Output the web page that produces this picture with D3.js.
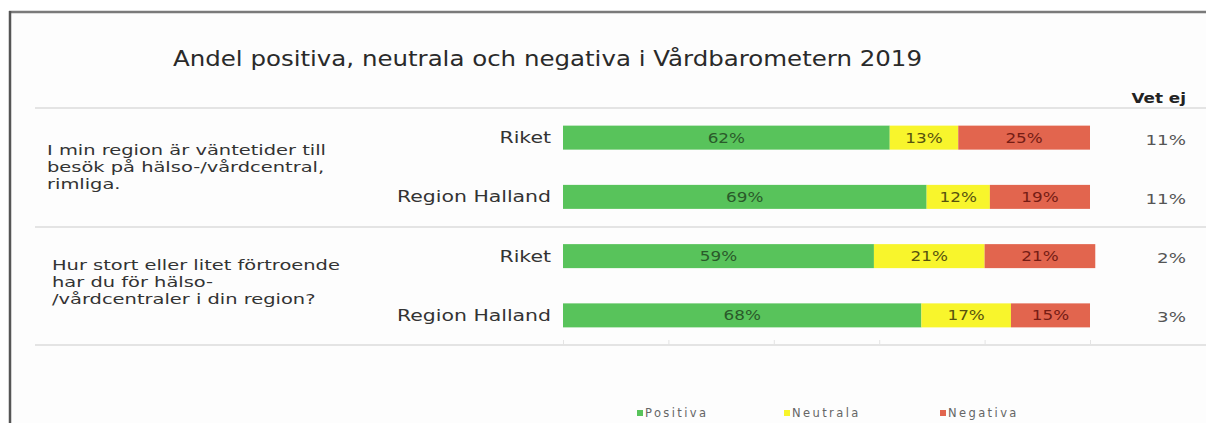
<!DOCTYPE html>
<html>
<head>
<meta charset="utf-8">
<script src="https://cdn.jsdelivr.net/npm/d3@7"></script>
<style>
  body { margin: 0; background: #fff; }
  svg { display: block; font-family: 'DejaVu Sans', sans-serif; }
</style>
</head>
<body>
<script>
const width = 1206, height = 423;

// data
const questions = [
    ['I min region är väntetider till', 'besök på hälso-/vårdcentral,', 'rimliga.'],
    ['Hur stort eller litet förtroende', 'har du för hälso-', '/vårdcentraler i din region?']
];
const groups = ['Riket', 'Region Halland'];
const positiva = [62, 69, 59, 68];
const neutrala = [13, 12, 21, 17];
const negativa = [25, 19, 21, 15];
const vetEj = [11, 11, 2, 3];
const seriesNames = ['Positiva', 'Neutrala', 'Negativa'];
const xTicks = [0, 20, 40, 60, 80, 100];

const colors = { Positiva: '#58c35b', Neutrala: '#f8f52c', Negativa: '#e2654e' };
const labelColors = { Positiva: '#2a5a2a', Neutrala: '#57520e', Negativa: '#751c14' };

const rows = [];
questions.forEach((q, qi) => groups.forEach((g, gi) => {
    const i = qi * groups.length + gi;
    rows.push({ key: qi + '-' + g, q: qi, group: g, Positiva: positiva[i], Neutrala: neutrala[i], Negativa: negativa[i], vetEj: vetEj[i] });
}));

const svg = d3.select('body').append('svg').attr('width', width).attr('height', height);

// frame
svg.append('rect').attr('x', 10).attr('y', 12).attr('width', width).attr('height', height)
    .attr('fill', '#fdfdfd');
svg.append('line').attr('x1', 9).attr('x2', width).attr('y1', 12).attr('y2', 12)
    .attr('stroke', '#7a7a7a').attr('stroke-width', 2.5);
svg.append('line').attr('x1', 10).attr('x2', 10).attr('y1', 11).attr('y2', height)
    .attr('stroke', '#555').attr('stroke-width', 2.5);

const x = d3.scaleLinear().domain([0, 100]).range([563, 1090]);
const y = d3.scaleBand().domain(rows.map(d => d.key)).range([108, 345])
    .paddingInner(0.595).paddingOuter(0.2975);

// widen glyphs, the original font is a wide geometric one
function stretch(sel, k) {
    sel.each(function () {
        const len = this.getComputedTextLength();
        d3.select(this).attr('textLength', len * k).attr('lengthAdjust', 'spacingAndGlyphs');
    });
}
// factor so that a sample string gets a target width
function factorFor(str, size, target) {
    const t = svg.append('text').attr('font-size', size).text(str);
    const k = target / t.node().getComputedTextLength();
    t.remove();
    return k;
}

// title
svg.append('text').attr('x', 173).attr('y', 66)
    .attr('font-size', 21).attr('fill', '#2a2a2a')
    .attr('textLength', 749).attr('lengthAdjust', 'spacingAndGlyphs')
    .text('Andel positiva, neutrala och negativa i Vårdbarometern 2019');

svg.append('text').attr('x', 1186).attr('y', 103).attr('text-anchor', 'end')
    .attr('font-size', 14).attr('font-weight', 'bold').attr('fill', '#222')
    .text('Vet ej')
    .call(stretch, 1.2);

// separator lines
svg.selectAll('line.sep')
    .data([108, 227, 345])
    .enter().append('line')
    .attr('class', 'sep')
    .attr('x1', 35).attr('x2', width)
    .attr('y1', d => d).attr('y2', d => d)
    .attr('stroke', '#e4e4e4').attr('stroke-width', 2);

// faint ticks on the bottom line
const axis = svg.append('g').attr('transform', 'translate(0,345)')
    .call(d3.axisBottom(x).tickValues(xTicks).tickSize(-5).tickFormat(''));
axis.select('.domain').remove();
axis.selectAll('.tick line').attr('stroke', '#e4e4e4');

// question text
const qTop = [150, 265];
const qX = [47, 52];
const qK = factorFor(questions[0][0], 14, 279);
questions.forEach((lines, qi) => {
    svg.selectAll('text.q' + qi)
        .data(lines)
        .enter().append('text')
        .attr('class', 'q' + qi)
        .attr('x', qX[qi])
        .attr('y', (d, li) => qTop[qi] + li * 17)
        .attr('dy', '0.35em')
        .attr('font-size', 14).attr('fill', '#333')
        .text(d => d)
        .call(stretch, qK);
});

// category labels
const catK = factorFor(groups[1], 16, 154);
svg.selectAll('text.cat')
    .data(rows)
    .enter().append('text')
    .attr('class', 'cat')
    .attr('x', 551)
    .attr('y', d => y(d.key) + y.bandwidth() / 2)
    .attr('dy', '0.35em')
    .attr('text-anchor', 'end')
    .attr('font-size', 16).attr('fill', '#333')
    .text(d => d.group)
    .call(stretch, catK);

// stacked bars
const stack = d3.stack().keys(seriesNames)(rows);
const layer = svg.selectAll('g.layer')
    .data(stack)
    .enter().append('g')
    .attr('class', 'layer');

layer.selectAll('rect')
    .data(s => s.map(d => ({ key: s.key, d })))
    .enter().append('rect')
    .attr('x', p => x(p.d[0]))
    .attr('y', p => y(p.d.data.key))
    .attr('width', p => x(p.d[1]) - x(p.d[0]))
    .attr('height', y.bandwidth())
    .attr('fill', p => colors[p.key]);

layer.selectAll('text')
    .data(s => s.map(d => ({ key: s.key, d })))
    .enter().append('text')
    .attr('x', p => (x(p.d[0]) + x(p.d[1])) / 2)
    .attr('y', p => y(p.d.data.key) + y.bandwidth() / 2)
    .attr('dy', '0.35em')
    .attr('text-anchor', 'middle')
    .attr('font-size', 14)
    .attr('fill', p => labelColors[p.key])
    .text(p => (p.d[1] - p.d[0]) + '%')
    .call(stretch, 1.2);

// vet ej column
svg.selectAll('text.vet')
    .data(rows)
    .enter().append('text')
    .attr('class', 'vet')
    .attr('x', 1186)
    .attr('y', d => y(d.key) + y.bandwidth() / 2 + 2)
    .attr('dy', '0.35em')
    .attr('text-anchor', 'end')
    .attr('font-size', 14).attr('fill', '#555')
    .text(d => d.vetEj + '%')
    .call(stretch, 1.3);

// legend
const legendX = [637, 784, 940];
const legend = svg.selectAll('g.legend')
    .data(seriesNames)
    .enter().append('g')
    .attr('class', 'legend')
    .attr('transform', (d, i) => `translate(${legendX[i]}, 413)`);
legend.append('rect').attr('x', 0).attr('y', -3).attr('width', 6).attr('height', 6)
    .attr('fill', d => colors[d]);
legend.append('text').attr('x', 8).attr('dy', '0.35em')
    .attr('font-size', 11.5).attr('letter-spacing', 2.4).attr('fill', '#666')
    .text(d => d);
</script>
</body>
</html>
